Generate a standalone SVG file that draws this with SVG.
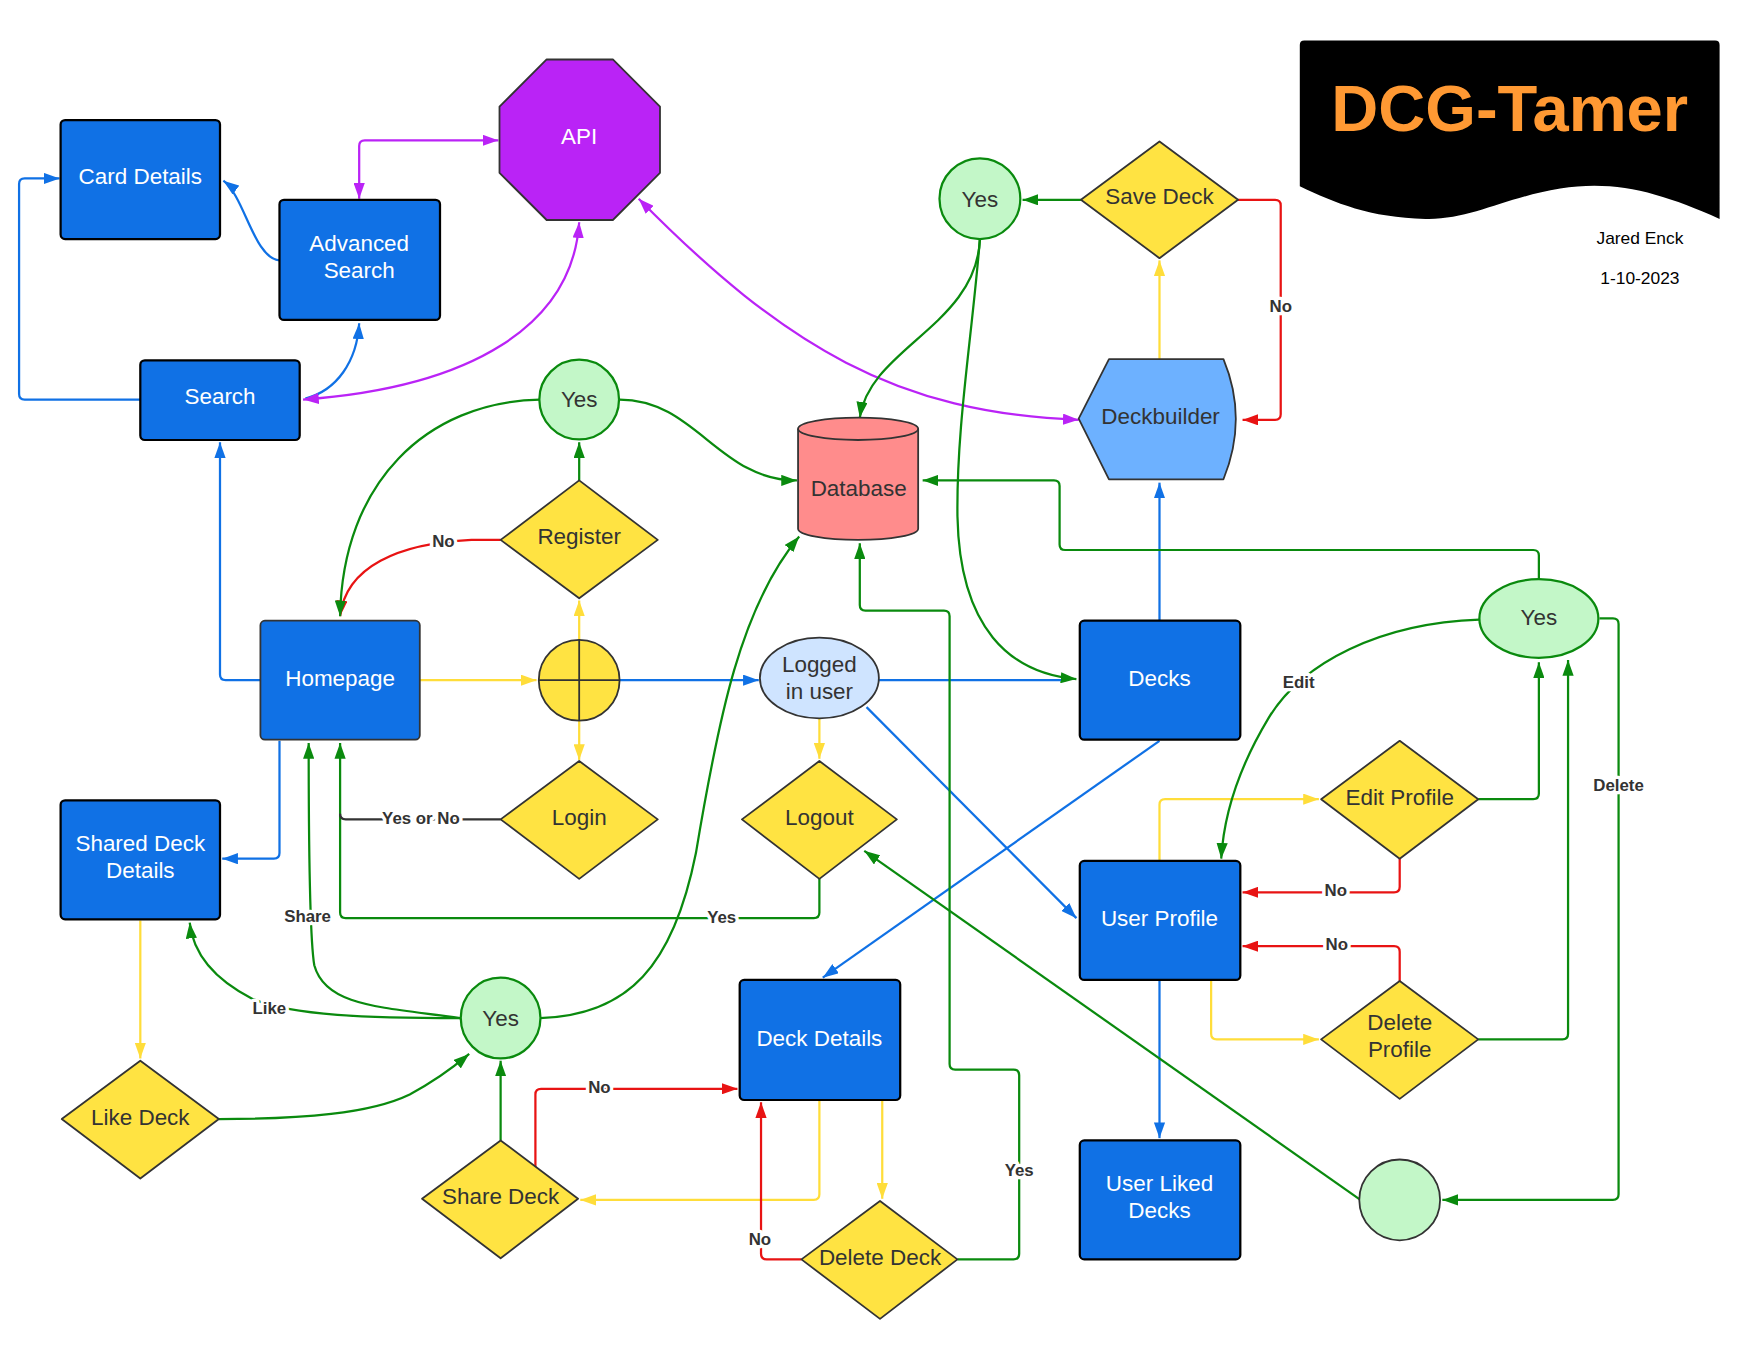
<svg xmlns="http://www.w3.org/2000/svg" width="1760" height="1360" viewBox="0 0 1760 1360">
<defs>
<style>
.box{fill:#1071E5;stroke:#000;stroke-width:2}
.dia{fill:#FFE342;stroke:#333;stroke-width:1.6;stroke-linejoin:round}
.yes{fill:#C3F7C8;stroke:#0A8A0E;stroke-width:2}
.t{font-family:"Liberation Sans",Arial,sans-serif;font-size:20px;text-anchor:middle}
.w{fill:#fff}
.d{fill:#333}
.lbl{font-family:"Liberation Sans",Arial,sans-serif;font-size:15px;font-weight:bold;fill:#333;text-anchor:middle;stroke:#fff;stroke-width:6px;paint-order:stroke;stroke-linejoin:round}
.c{fill:none;stroke-width:2}
.b{stroke:#1071E5;marker-end:url(#mb)}
.y{stroke:#FFDD3A;marker-end:url(#my)}
.r{stroke:#E81313;marker-end:url(#mr)}
.p{stroke:#BA23F6;marker-end:url(#mp);marker-start:url(#mp)}
.g{stroke:#0A8A0E;marker-end:url(#mg)}
</style>
<marker id="mb" viewBox="0 0 14 10" refX="14" refY="5" markerWidth="14" markerHeight="10" markerUnits="userSpaceOnUse" orient="auto-start-reverse"><path d="M0,0 L14,5 L0,10 z" fill="#1071E5"/></marker>
<marker id="my" viewBox="0 0 14 10" refX="14" refY="5" markerWidth="14" markerHeight="10" markerUnits="userSpaceOnUse" orient="auto-start-reverse"><path d="M0,0 L14,5 L0,10 z" fill="#FFDD3A"/></marker>
<marker id="mr" viewBox="0 0 14 10" refX="14" refY="5" markerWidth="14" markerHeight="10" markerUnits="userSpaceOnUse" orient="auto-start-reverse"><path d="M0,0 L14,5 L0,10 z" fill="#E81313"/></marker>
<marker id="mp" viewBox="0 0 14 10" refX="14" refY="5" markerWidth="14" markerHeight="10" markerUnits="userSpaceOnUse" orient="auto-start-reverse"><path d="M0,0 L14,5 L0,10 z" fill="#BA23F6"/></marker>
<marker id="mg" viewBox="0 0 14 10" refX="14" refY="5" markerWidth="14" markerHeight="10" markerUnits="userSpaceOnUse" orient="auto-start-reverse"><path d="M0,0 L14,5 L0,10 z" fill="#0A8A0E"/></marker>
</defs>
<rect width="1760" height="1360" fill="#fff"/>
<g transform="scale(1.12245)">
<g id="connectors">
<!-- blue -->
<path class="c b" d="M125,356 H22 Q17,356 17,351 V164 Q17,159 22,159 H53"/>
<path class="c b" d="M249,232 C226,230 218,175 199,161"/>
<path class="c b" d="M272,355 C300,348 318,322 320,288"/>
<path class="c b" d="M232,606 H201 Q196,606 196,601 V394"/>
<path class="c b" d="M249,660 V760 Q249,765 244,765 H198"/>
<path class="c b" d="M552,606 H676"/>
<path class="c" stroke="#1071E5" d="M783,606 H950"/>
<path class="c b" d="M772,630 L959,818"/>
<path class="c b" d="M1033,660 L733,871"/>
<path class="c b" d="M1033,553 V430"/>
<path class="c b" stroke-width="1.5" d="M1033,873 V1014"/>
<!-- yellow -->
<path class="c y" d="M374,606 H478"/>
<path class="c y" d="M516,570 V535"/>
<path class="c y" d="M516,642 V677"/>
<path class="c y" d="M730,640 V676"/>
<path class="c y" d="M1033,320 V232"/>
<path class="c y" d="M1033,767 V717 Q1033,712 1038,712 H1175"/>
<path class="c y" d="M1079,873 V921 Q1079,926 1084,926 H1175"/>
<path class="c y" d="M125,820 V943"/>
<path class="c y" d="M730,980 V1064 Q730,1069 725,1069 H517"/>
<path class="c y" d="M786,980 V1068"/>
<!-- red -->
<path class="c r" d="M446,481 H420 C355,484 308,505 303,549"/>
<path class="c r" d="M1103,178 H1136 Q1141,178 1141,183 V369 Q1141,374 1136,374 H1107"/>
<path class="c r" d="M1247,765 V790 Q1247,795 1242,795 H1107"/>
<path class="c r" d="M1247,874 V848 Q1247,843 1242,843 H1107"/>
<path class="c r" d="M477,1040 V975 Q477,970 482,970 H657"/>
<path class="c r" d="M714,1122 H683 Q678,1122 678,1117 V982"/>
<!-- purple -->
<path class="c p" d="M320,177 V130 Q320,125 325,125 H444"/>
<path class="c p" d="M270,356 C420,345 510,290 516,198"/>
<path class="c p" d="M569,177 C700,310 800,368 961,374"/>
<!-- green -->
<path class="c g" d="M516,428 V394"/>
<path class="c g" d="M481,356 C380,358 305,430 303,549"/>
<path class="c g" d="M552,356 C620,356 640,428 710,428"/>
<path class="c g" d="M963,178 H911"/>
<path class="c g" d="M873,213 C870,290 775,310 766,372"/>
<path class="c g" d="M873,213 C866,300 852,380 853,460 C855,560 900,600 959,605"/>
<path class="c g" d="M1371,516 V495 Q1371,490 1366,490 H949 Q944,490 944,485 V433 Q944,428 939,428 H822"/>
<path class="c g" d="M853,1122 H903 Q908,1122 908,1117 V958 Q908,953 903,953 H851 Q846,953 846,948 V549 Q846,544 841,544 H771 Q766,544 766,539 V484"/>
<path class="c g" d="M481,907 C560,905 600,860 620,760 C640,640 660,540 712,478"/>
<path class="c g" d="M410,907 C330,907 260,905 225,890 C190,872 172,850 169,822"/>
<path class="c g" d="M410,907 C340,897 290,897 280,860 C275,830 275,700 275,662"/>
<path class="c g" d="M730,783 V813 Q730,818 725,818 H308 Q303,818 303,813 V662"/>
<path class="c" stroke="#333" d="M446,730 H308 Q303,730 303,725"/>
<path class="c g" d="M195,997 C270,997 330,992 365,975 C390,962 405,950 418,939"/>
<path class="c g" stroke-width="1.5" d="M446,1016 V945"/>
<path class="c g" d="M1212,1069 L770,758"/>
<path class="c g" d="M1425,551 H1437 Q1442,551 1442,556 V1064 Q1442,1069 1437,1069 H1285"/>
<path class="c g" d="M1318,552 C1230,555 1160,590 1130,640 C1100,690 1090,730 1088,765"/>
<path class="c g" d="M1317,712 H1366 Q1371,712 1371,707 V590"/>
<path class="c g" d="M1317,926 H1392 Q1397,926 1397,921 V588"/>
<!-- labels -->
<text class="lbl" x="395" y="487">No</text>
<text class="lbl" x="1141" y="278">No</text>
<text class="lbl" x="1190" y="798">No</text>
<text class="lbl" x="1191" y="846">No</text>
<text class="lbl" x="534" y="974">No</text>
<text class="lbl" x="677" y="1109">No</text>
<text class="lbl" x="908" y="1048">Yes</text>
<text class="lbl" x="375" y="734">Yes or No</text>
<text class="lbl" x="274" y="821">Share</text>
<text class="lbl" x="240" y="903">Like</text>
<text class="lbl" x="643" y="822">Yes</text>
<text class="lbl" x="1157" y="613">Edit</text>
<text class="lbl" x="1442" y="705">Delete</text>
</g>
<g id="title">
<path d="M1158,40 Q1158,36 1162,36 H1528 Q1532,36 1532,40 V195 C1480,172 1440,160 1390,168 C1340,176 1310,196 1270,195 C1220,194 1190,181 1158,166 Z" fill="#000"/>
<text x="1345" y="117" font-family="'Liberation Sans',Arial,sans-serif" font-size="58" font-weight="bold" fill="#FF9933" text-anchor="middle">DCG-Tamer</text>
</g>
<text x="1461" y="217" font-family="'Liberation Sans',Arial,sans-serif" font-size="15.5" fill="#000" text-anchor="middle">Jared Enck</text>
<text x="1461" y="253" font-family="'Liberation Sans',Arial,sans-serif" font-size="15.5" fill="#000" text-anchor="middle">1-10-2023</text>
<g id="card-details"><rect class="box" x="54" y="107" width="142" height="106" rx="4"/><text class="t w" x="125" y="164">Card Details</text></g>
<g id="advanced-search"><rect class="box" x="249" y="178" width="143" height="107" rx="4"/><text class="t w" x="320" y="224">Advanced</text><text class="t w" x="320" y="248">Search</text></g>
<g id="search"><rect class="box" x="125" y="321" width="142" height="71" rx="4"/><text class="t w" x="196" y="360">Search</text></g>
<g id="api"><polygon points="487,53 546,53 588,95 588,154 546,196 487,196 445,154 445,95" fill="#BA23F6" stroke="#333" stroke-width="1.6" stroke-linejoin="round"/><text class="t w" x="516" y="128">API</text></g>
<g id="yes-register"><ellipse class="yes" cx="516" cy="356" rx="35.5" ry="35.5"/><text class="t d" x="516" y="363">Yes</text></g>
<g id="register"><polygon class="dia" points="516,428 586,481 516,533 446,481"/><text class="t d" x="516" y="485">Register</text></g>
<g id="junction"><ellipse cx="516" cy="606" rx="36" ry="36" fill="#FFE342" stroke="#333" stroke-width="1.6"/><path d="M516,570 V642 M480,606 H552" stroke="#333" stroke-width="1.6"/></g>
<g id="login"><polygon class="dia" points="516,678 586,730 516,783 446,730"/><text class="t d" x="516" y="735">Login</text></g>
<g id="homepage"><rect x="232" y="553" width="142" height="106" rx="4" fill="#1071E5" stroke="#333" stroke-width="1.6"/><text class="t w" x="303" y="611">Homepage</text></g>
<g id="logged-in-user"><ellipse cx="730" cy="604" rx="53" ry="36" fill="#CFE4FF" stroke="#333" stroke-width="1.6"/><text class="t d" x="730" y="599">Logged</text><text class="t d" x="730" y="623">in user</text></g>
<g id="logout"><polygon class="dia" points="730,678 799,730 730,783 661,730"/><text class="t d" x="730" y="735">Logout</text></g>
<g id="database"><path d="M711,382 A53.5,10 0 0 1 818,382 V471 A53.5,10 0 0 1 711,471 Z" fill="#FF8C8C" stroke="#333" stroke-width="1.6"/><path d="M711,382 A53.5,10 0 0 0 818,382" fill="none" stroke="#333" stroke-width="1.6"/><text class="t d" x="765" y="442">Database</text></g>
<g id="yes-save"><ellipse class="yes" cx="873" cy="177" rx="36" ry="36"/><text class="t d" x="873" y="184">Yes</text></g>
<g id="save-deck"><polygon class="dia" points="1033,126 1103,178 1033,230 963,178"/><text class="t d" x="1033" y="182">Save Deck</text></g>
<g id="deckbuilder"><path d="M961,373 L988,320 H1090 Q1112,373 1090,427 H988 Z" fill="#6DB1FF" stroke="#333" stroke-width="1.6" stroke-linejoin="round"/><text class="t d" x="1034" y="378">Deckbuilder</text></g>
<g id="decks"><rect class="box" x="962" y="553" width="143" height="106" rx="4"/><text class="t w" x="1033" y="611">Decks</text></g>
<g id="yes-profile"><ellipse class="yes" cx="1371" cy="551" rx="53" ry="35"/><text class="t d" x="1371" y="557">Yes</text></g>
<g id="edit-profile"><polygon class="dia" points="1247,660 1317,712 1247,765 1177,712"/><text class="t d" x="1247" y="717">Edit Profile</text></g>
<g id="user-profile"><rect class="box" x="962" y="767" width="143" height="106" rx="4"/><text class="t w" x="1033" y="825">User Profile</text></g>
<g id="delete-profile"><polygon class="dia" points="1247,874 1317,926 1247,979 1177,926"/><text class="t d" x="1247" y="918">Delete</text><text class="t d" x="1247" y="942">Profile</text></g>
<g id="user-liked-decks"><rect class="box" x="962" y="1016" width="143" height="106" rx="4"/><text class="t w" x="1033" y="1061">User Liked</text><text class="t w" x="1033" y="1085">Decks</text></g>
<g id="end-circle"><ellipse cx="1247" cy="1069" rx="36" ry="36" fill="#C3F7C8" stroke="#333" stroke-width="1.6"/></g>
<g id="deck-details"><rect class="box" x="659" y="873" width="143" height="107" rx="4"/><text class="t w" x="730" y="932">Deck Details</text></g>
<g id="delete-deck"><polygon class="dia" points="784,1070 853,1122 784,1175 714,1122"/><text class="t d" x="784" y="1127">Delete Deck</text></g>
<g id="share-deck"><polygon class="dia" points="446,1016 515,1068 446,1121 376,1068"/><text class="t d" x="446" y="1073">Share Deck</text></g>
<g id="yes-shared"><ellipse class="yes" cx="446" cy="907" rx="35.5" ry="36"/><text class="t d" x="446" y="914">Yes</text></g>
<g id="like-deck"><polygon class="dia" points="125,945 195,997 125,1050 55,997"/><text class="t d" x="125" y="1002">Like Deck</text></g>
<g id="shared-deck-details"><rect class="box" x="54" y="713" width="142" height="106" rx="4"/><text class="t w" x="125" y="758">Shared Deck</text><text class="t w" x="125" y="782">Details</text></g>
</g>
</svg>
